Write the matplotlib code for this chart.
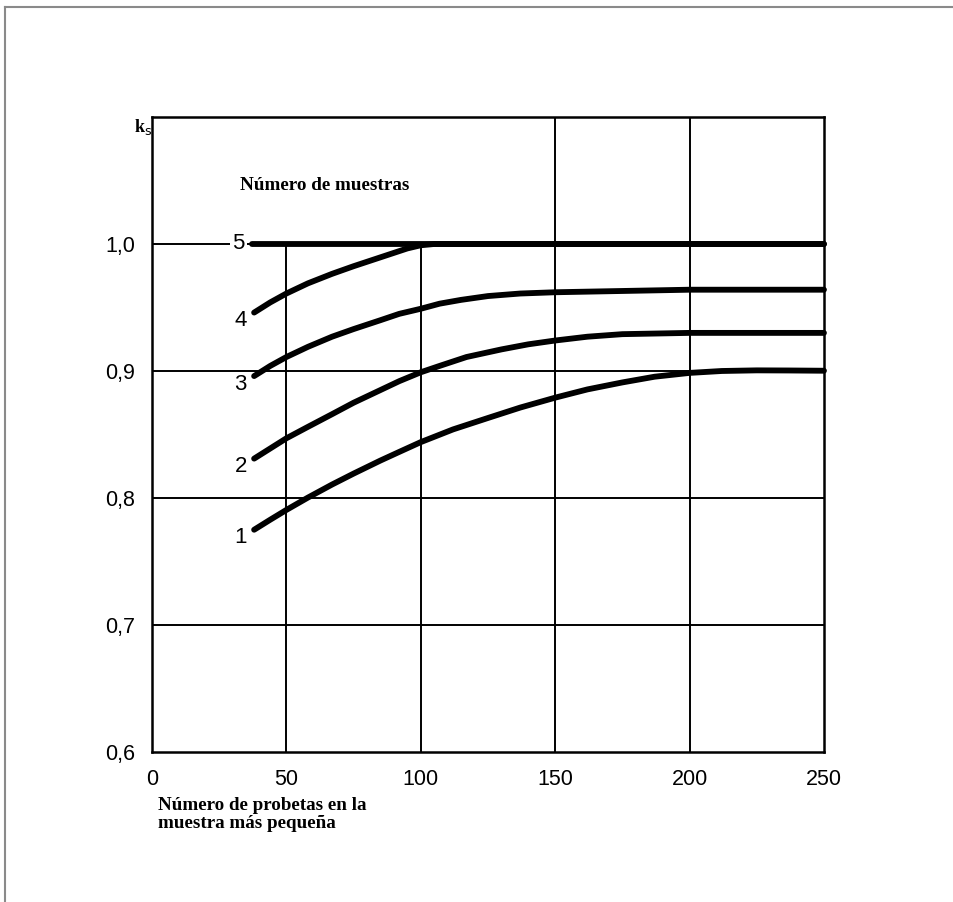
import matplotlib.pyplot as plt
from matplotlib.lines import Line2D

# datos: k_s frente al número de probetas
x1 = [38, 44, 50, 58, 67, 75, 85, 92, 100, 112, 125, 137, 150, 162, 175, 187, 200, 212, 225, 237, 250]
y1 = [0.775, 0.7829, 0.7906, 0.8003, 0.8106, 0.8192, 0.8295, 0.8363, 0.8440, 0.854, 0.863, 0.8712,
      0.879, 0.8855, 0.891, 0.8955, 0.8985, 0.900, 0.9005, 0.9004, 0.9002]

x2 = [38, 44, 50, 58, 67, 75, 85, 92, 100, 107, 117, 130, 140, 150, 162, 175, 200, 250]
y2 = [0.831, 0.839, 0.847, 0.856, 0.866, 0.875, 0.885, 0.892, 0.899, 0.904, 0.911, 0.917,
      0.921, 0.924, 0.927, 0.929, 0.930, 0.930]

x3 = [38, 44, 50, 58, 67, 75, 85, 92, 100, 107, 115, 125, 137, 150, 175, 200, 250]
y3 = [0.896, 0.904, 0.911, 0.919, 0.927, 0.933, 0.940, 0.945, 0.949, 0.953, 0.956, 0.959,
      0.961, 0.962, 0.963, 0.964, 0.964]

x4 = [38, 44, 50, 58, 67, 75, 85, 90, 95, 100, 105, 250]
y4 = [0.946, 0.954, 0.961, 0.969, 0.9765, 0.9825, 0.9895, 0.993, 0.9965, 0.999, 1.000, 1.000]

x5 = [37.2, 250]
y5 = [1.000, 1.000]

curvas = [(x1, y1, "1"), (x2, y2, "2"), (x3, y3, "3"), (x4, y4, "4"), (x5, y5, "5")]

xticks = [0, 50, 100, 150, 200, 250]
yticks = [0.6, 0.7, 0.8, 0.9, 1.0]
ytick_labels = ["0,6", "0,7", "0,8", "0,9", "1,0"]

fig = plt.figure(figsize=(9.54, 9.02), dpi=100, facecolor='white')
ax = fig.add_axes([0.1593, 0.1663, 0.7044, 0.7040])

ax.set_xlim(0, 250)
ax.set_ylim(0.6, 1.1)

# rejilla: las dos primeras verticales sólo llegan hasta 1,0
ax.vlines(xticks[1:3], 0.6, 1.0, color='black', linewidth=1.4, zorder=1)
ax.vlines(xticks[3:5], 0.6, 1.1, color='black', linewidth=1.4, zorder=1)
ax.hlines(yticks[1:], 0, 250, color='black', linewidth=1.4, zorder=1)

for sp in ax.spines.values():
    sp.set_linewidth(1.8)

ax.set_xticks(xticks)
ax.set_xticklabels([str(v) for v in xticks], fontsize=15.5, family='Liberation Sans')
ax.set_yticks(yticks)
ax.set_yticklabels(ytick_labels, fontsize=15.5, family='Liberation Sans')
ax.tick_params(length=0, pad=12)

# curvas y sus números
for xs, ys, nombre in curvas:
    ax.plot(xs, ys, color='black', linewidth=4.2, solid_capstyle='round',
            solid_joinstyle='round', zorder=3, clip_on=False)
    dy = 0.0 if nombre == "5" else -0.0065
    ax.text(xs[0] - 5, ys[0] + dy, nombre, fontsize=16, family='Liberation Sans',
            ha='center', va='center', zorder=4,
            bbox=dict(facecolor='white', edgecolor='none', pad=1.5))

ax.text(-3.3, 1.092, r"k$_{\rm s}$", fontsize=13, family='Liberation Serif',
        fontweight='bold', ha='center', va='center', clip_on=False)
ax.text(32.7, 1.046, "Número de muestras", fontsize=13.8, family='Liberation Serif',
        fontweight='bold', ha='left', va='center')
ax.text(2.2, 0.5645, "Número de probetas en la\nmuestra más pequeña", fontsize=13.7,
        family='Liberation Serif', fontweight='bold', ha='left', va='top',
        linespacing=1.1, clip_on=False)

# marco exterior del escaneo (sólo arriba e izquierda)
fig.add_artist(Line2D([5 / 954, 1.0], [1 - 7 / 902, 1 - 7 / 902], color='#8a8a8a', linewidth=1.5))
fig.add_artist(Line2D([5 / 954, 5 / 954], [0.0, 1 - 7 / 902], color='#8a8a8a', linewidth=1.5))

plt.savefig('out.png', dpi=100, facecolor='white')
